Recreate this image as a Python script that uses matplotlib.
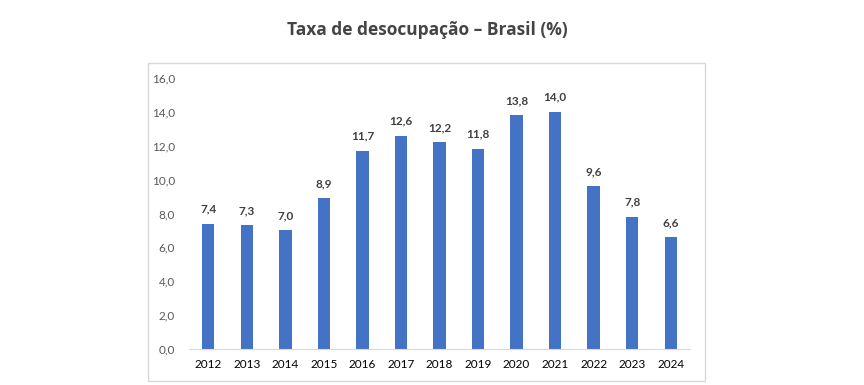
import matplotlib.pyplot as plt
from matplotlib.patches import Rectangle

anos = ["2012", "2013", "2014", "2015", "2016", "2017", "2018",
        "2019", "2020", "2021", "2022", "2023", "2024"]
taxa = [7.4, 7.3, 7.0, 8.9, 11.7, 12.6, 12.2, 11.8, 13.8, 14.0, 9.6, 7.8, 6.6]
y_ticks = [0, 2, 4, 6, 8, 10, 12, 14, 16]

W, H = 864, 385
fig = plt.figure(figsize=(W / 100, H / 100), dpi=100)

# chart area border
fig.add_artist(Rectangle((148 / W, 1 - 381 / H), (705 - 148) / W, (381 - 63) / H,
                         transform=fig.transFigure, fill=False,
                         edgecolor="#d9d9d9", linewidth=1))

ax = fig.add_axes([189 / W, 1 - 349 / H, (690 - 189) / W, (349 - 78) / H])
x = list(range(len(anos)))
ax.bar(x, taxa, width=0.32, color="#4472c4")

for xi, v in zip(x, taxa):
    ax.text(xi, v + 0.55, f"{v:.1f}".replace(".", ","), ha="center", va="bottom",
            fontsize=8.5, fontweight="bold", color="#404040", family="Lato")

ax.set_xlim(-0.5, len(anos) - 0.5)
ax.set_ylim(0, 16)
ax.set_xticks(x)
ax.set_xticklabels(anos, fontsize=8.5, color="#000000", family="Lato")
ax.set_yticks(y_ticks)
ax.set_yticklabels([f"{t:.1f}".replace(".", ",") for t in y_ticks],
                   fontsize=8.5, color="#595959", family="Lato")
ax.tick_params(length=0, axis="both")
ax.tick_params(axis="x", pad=7)
ax.tick_params(axis="y", pad=10)
for s in ["top", "right", "left"]:
    ax.spines[s].set_visible(False)
ax.spines["bottom"].set_color("#d9d9d9")

fig.text(427 / W, 1 - 30 / H, "Taxa de desocupação – Brasil (%)", ha="center", va="center",
         fontsize=12.5, fontweight="bold", color="#444444", family="Open Sans")

fig.savefig("out.png", dpi=100)
